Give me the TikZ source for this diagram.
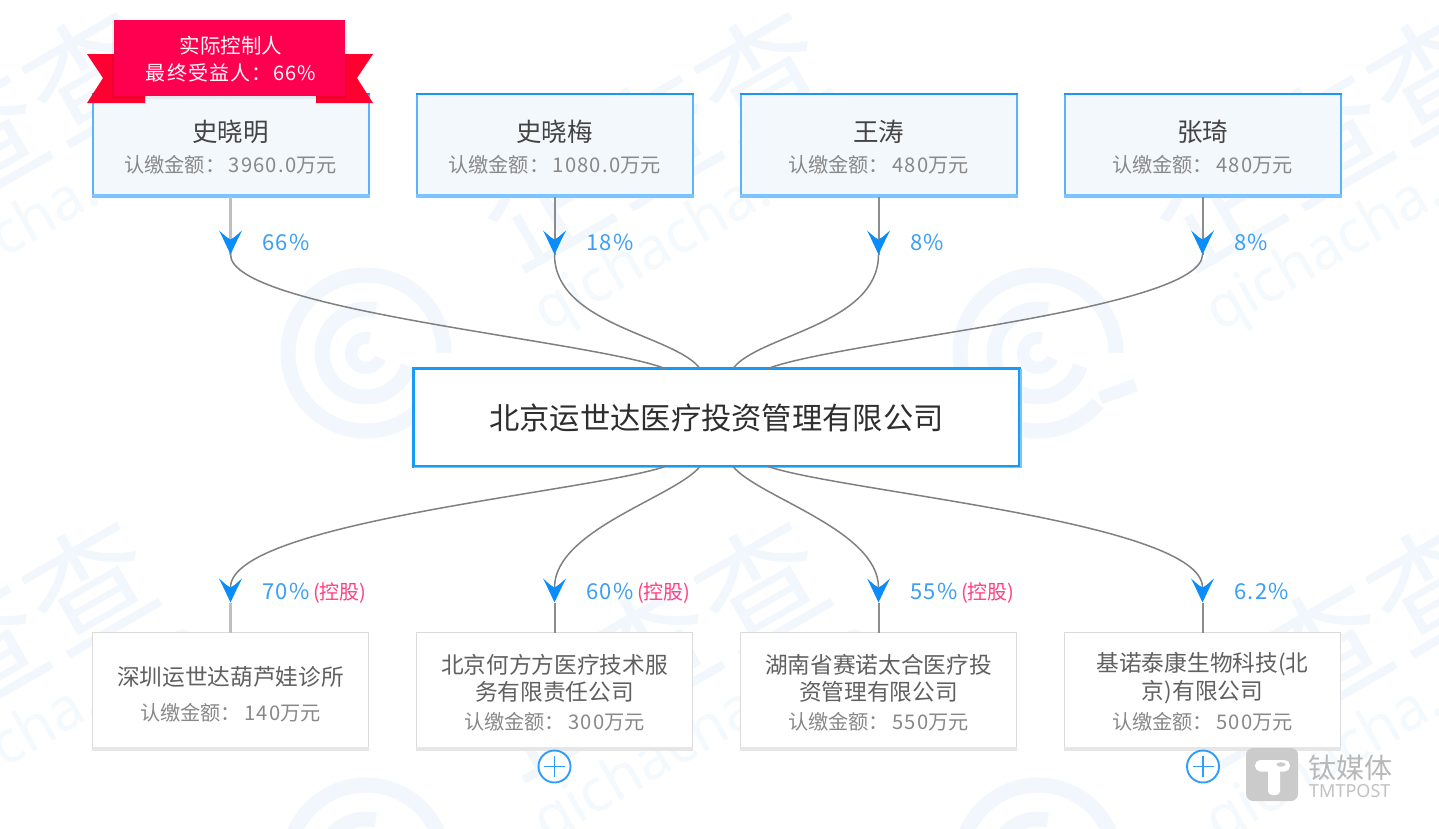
\documentclass[tikz,border=0pt]{standalone}
\usepackage{fontspec}
\setmainfont{Noto Sans CJK SC}
\newfontfamily\cn{Noto Sans CJK SC}
\newfontfamily\dg[LetterSpace=6]{Noto Sans CJK SC}
\newfontfamily\wm{Noto Sans}
\usetikzlibrary{calc}
\definecolor{wmc}{HTML}{F1F7FD}
\definecolor{wmt}{HTML}{F4F9FE}
\definecolor{topfill}{HTML}{F3F8FD}
\definecolor{topline}{HTML}{5AB4FC}
\definecolor{topedge}{HTML}{1E94F6}
\definecolor{topbot}{HTML}{7CC4FF}
\definecolor{hubline}{HTML}{1A9AF7}
\definecolor{subline}{HTML}{DADADA}
\definecolor{subbot}{HTML}{E6E6E6}
\definecolor{arrowc}{HTML}{0A8CFA}
\definecolor{pctc}{HTML}{3C9EF5}
\definecolor{pinkc}{HTML}{FF4080}
\definecolor{namec}{HTML}{444444}
\definecolor{subc}{HTML}{888888}
\definecolor{bannerc}{HTML}{FF0050}
\definecolor{tailc}{HTML}{FF0030}
\definecolor{logoc}{HTML}{CBCBCB}
\newcommand{\fs}[1]{\fontsize{#1}{#1}\selectfont}
\newcommand{\wmtile}[2]{%
  \node[wmbig] at (#1,#2) {企查查};
}
\newcommand{\wmlogo}[2]{%
  \coordinate (lc) at (#1,#2);
  \draw[wmring] ($(lc)+(0:78)$) arc[start angle=0,end angle=320,radius=78];
  \draw[wmring] ($(lc)+(77:44)$) arc[start angle=77,end angle=343,radius=44];
  \draw[wmring,line width=12pt] ($(lc)+(75:15)$) arc[start angle=75,end angle=340,radius=15];
  \draw[wmring,line width=13pt] ($(lc)+(62,-45)$) -- ($(lc)+(98,-32)$);
}
\newcommand{\arrowat}[1]{%
  \fill[arrowc] (#1) -- ($(#1)+(-8,17)$) -- ($(#1)+(-11.5,24)$) -- ($(#1)+(-4,17.5)$) -- ($(#1)+(0,15)$)
     -- ($(#1)+(4,17.5)$) -- ($(#1)+(11.5,24)$) -- ($(#1)+(8,17)$) -- cycle;
}
\tikzset{
  x=1pt,y=1pt,
  wmbig/.style={text=wmc,font=\cn\fs{125},rotate=30,inner sep=0pt},
  wmsmall/.style={text=wmt,font=\wm\fs{59},rotate=30,inner sep=0pt,anchor=base west},
  wmring/.style={draw=wmc,line width=15pt},
  holder/.style={draw=topline,line width=2pt,fill=topfill,minimum width=276pt,minimum height=103pt,inner sep=0pt,outer sep=0pt},
  hubbox/.style={draw=hubline,line width=2.4pt,fill=white,minimum width=606pt,minimum height=98pt,inner sep=0pt,outer sep=0pt},
  subbox/.style={draw=subline,line width=1.8pt,fill=white,minimum width=276pt,minimum height=117pt,inner sep=0pt,outer sep=0pt},
  title/.style={anchor=base,inner sep=0pt,text=namec,font=\cn\fs{25.5}},
  money/.style={anchor=base,inner sep=0pt,text=subc,font=\cn\fs{20.2}},
  subname/.style={anchor=center,inner sep=0pt,text=namec!85!white,font=\cn\fs{22.7},align=center},
  pct/.style={anchor=base west,inner sep=0pt,text=pctc,font=\dg\fs{22}},
  vline/.style={draw=black!45,line width=2pt},
  link/.style={draw=black!50,line width=1.5pt},
  plusc/.style={circle,draw=arrowc!85!white,line width=1.9pt,fill=white,minimum size=32pt,inner sep=0pt},
}
\begin{document}
\begin{tikzpicture}
\useasboundingbox (0,0) rectangle (1439,-828);
\fill[white] (0,0) rectangle (1439,-828);
% watermark
\begin{scope}
\clip (0,0) rectangle (1439,-828);
\wmlogo{366}{-353}\wmlogo{1038}{-353}\wmlogo{366}{-863}\wmlogo{1038}{-863}
\foreach \x in {-20,652,1324} \foreach \y in {-137,-647}{\wmtile{\x}{\y}}
\foreach \x in {-125,547,1219} \foreach \y in {-333,-843}{\node[wmsmall] at (\x,\y) {qichacha.com};}
\end{scope}
% boxes
\node[holder] (p1) at (230.5,-145) {};
\node[holder] (p2) at (554.5,-145) {};
\node[holder] (p3) at (878.5,-145) {};
\node[holder] (p4) at (1202.5,-145) {};
\node[hubbox] (hub) at (716.5,-417.5) {};
\node[subbox] (s1) at (230.5,-691) {};
\node[subbox] (s2) at (554.5,-691) {};
\node[subbox] (s3) at (878.5,-691) {};
\node[subbox] (s4) at (1202.5,-691) {};
\foreach \n in {p1,p2,p3,p4}{
  \draw[topbot,line width=4pt] ($(\n.south west)+(-1,1)$) -- ($(\n.south east)+(1,1)$);
  \draw[topedge,line width=2pt] ($(\n.north west)+(-1,0)$) -- ($(\n.north east)+(1,0)$);
}
\foreach \n in {s1,s2,s3,s4}{\draw[subbot,line width=4pt] ($(\n.south west)+(-0.9,1)$) -- ($(\n.south east)+(0.9,1)$);}
\draw[topbot,line width=1.2pt] ($(hub.south west)+(0,-1.2)$) -- ($(hub.south east)+(1.5,-1.2)$) -- ($(hub.north east)+(1.5,0)$);
% connector points
\foreach \i/\n in {1/p1,2/p2,3/p3,4/p4}{\coordinate (t\i) at ($(\n.south)+(0,-58)$);}
\foreach \i/\n in {1/s1,2/s2,3/s3,4/s4}{\coordinate (b\i) at ($(\n.north)+(0,30)$);}
\coordinate (h1) at ($(hub.north)+(-51.5,0)$);
\coordinate (h2) at ($(hub.north)+(-16.5,0)$);
\coordinate (h3) at ($(hub.north)+(16.5,0)$);
\coordinate (h4) at ($(hub.north)+(51.5,0)$);
\coordinate (k1) at ($(hub.south)+(-51.5,0)$);
\coordinate (k2) at ($(hub.south)+(-16.5,0)$);
\coordinate (k3) at ($(hub.south)+(16.5,0)$);
\coordinate (k4) at ($(hub.south)+(51.5,0)$);
% connectors, owners
\draw[vline,draw=black!25,line width=3.4pt] (p1.south) -- (t1);
\draw[vline] (p2.south) -- (t2);
\draw[vline] (p3.south) -- (t3);
\draw[vline] (p4.south) -- (t4);
\draw[link] (t1) .. controls (230.5,-310) and (590,-340) .. (h1);
\draw[link] (t2) .. controls (554.5,-325) and (675,-335) .. (h2);
\draw[link] (t3) .. controls (878.5,-325) and (758,-335) .. (h3);
\draw[link] (t4) .. controls (1202.5,-310) and (843,-340) .. (h4);
% connectors, holdings
\draw[link] (k1) .. controls (590,-492) and (230.5,-522) .. ($(b1)+(0,15)$);
\draw[link] (k2) .. controls (675,-497) and (554.5,-530) .. ($(b2)+(0,15)$);
\draw[link] (k3) .. controls (758,-497) and (878.5,-530) .. ($(b3)+(0,15)$);
\draw[link] (k4) .. controls (843,-492) and (1202.5,-522) .. ($(b4)+(0,15)$);
\draw[vline,draw=black!25,line width=3.4pt] (b1) -- (s1.north);
\draw[vline] (b2) -- (s2.north);
\draw[vline] (b3) -- (s3.north);
\draw[vline] (b4) -- (s4.north);
\foreach \c in {t1,t2,t3,t4,b1,b2,b3,b4}{\arrowat{\c}}
% ribbon
\fill[tailc] (87,-54) -- (114,-54) -- (114,-96) -- (145,-96) -- (145,-103) -- (87,-103) -- (103,-78) -- cycle;
\fill[tailc] (373,-54) -- (345,-54) -- (345,-96) -- (316,-96) -- (316,-103) -- (373,-103) -- (357,-78) -- cycle;
\fill[black,opacity=0.05] (112,-22) rectangle (347,-99);
\fill[bannerc] (114,-20) rectangle (345,-96);
\node[anchor=base,inner sep=0pt,text=white!92!pink,font=\cn\fs{20.5}] (rib1) at (231,-53.5) {实际控制人};
\node[anchor=base,inner sep=0pt,text=white!92!pink,font=\dg\fs{20}] (rib2) at (231,-80.5) {最终受益人：66\%};
% texts
\node[title] (n1) at (230.5,-141.4) {史晓明};
\node[money] (m1) at (230.5,-172) {认缴金额：\,{\dg 3960.0}万元};
\node[title] (n2) at (554.5,-141.4) {史晓梅};
\node[money] (m2) at (554.5,-172) {认缴金额：\,{\dg 1080.0}万元};
\node[title] (n3) at (878.5,-141.4) {王涛};
\node[money] (m3) at (878.5,-172) {认缴金额：\,{\dg 480}万元};
\node[title] (n4) at (1202.5,-141.4) {张琦};
\node[money] (m4) at (1202.5,-172) {认缴金额：\,{\dg 480}万元};
\node[anchor=base,inner sep=0pt,text=black!82,font=\cn\fs{30.3}] (hubt) at (716.5,-429) {北京运世达医疗投资管理有限公司};
\node[subname] (q1) at (230.5,-677) {深圳运世达葫芦娃诊所};
\node[money] (r1) at (230.5,-720) {认缴金额：\,{\dg 140}万元};
\node[subname] (q2) at (554.5,-678) {北京何方方医疗技术服\\[4pt]务有限责任公司};
\node[money] (r2) at (554.5,-729) {认缴金额：\,{\dg 300}万元};
\node[subname] (q3) at (878.5,-678) {湖南省赛诺太合医疗投\\[4pt]资管理有限公司};
\node[money] (r3) at (878.5,-729) {认缴金额：\,{\dg 550}万元};
\node[subname] (q4) at (1202.5,-678) {基诺泰康生物科技(北\\[4pt]京)有限公司};
\node[money] (r4) at (1202.5,-729) {认缴金额：\,{\dg 500}万元};
% percentages
\node[pct] (c1) at (262,-250) {66\%};
\node[pct] (c2) at (586,-250) {18\%};
\node[pct] (c3) at (910,-250) {8\%};
\node[pct] (c4) at (1234,-250) {8\%};
\node[pct] (d1) at (262,-599) {70\%\,{\cn\fs{20}\color{pinkc}(控股)}};
\node[pct] (d2) at (586,-599) {60\%\,{\cn\fs{20}\color{pinkc}(控股)}};
\node[pct] (d3) at (910,-599) {55\%\,{\cn\fs{20}\color{pinkc}(控股)}};
\node[pct] (d4) at (1234,-599) {6.2\%};
% expanders
\node[plusc] (e2) at (554.5,-766.5) {};
\node[plusc] (e4) at (1203,-766.5) {};
\foreach \e in {e2,e4}{
  \draw[arrowc!85!white,line width=1.5pt] ($(\e)+(-10.5,0)$) -- ($(\e)+(10.5,0)$);
  \draw[arrowc!85!white,line width=1.5pt] ($(\e)+(0,-10.5)$) -- ($(\e)+(0,10.5)$);
}
% TMTPOST mark
\fill[logoc,rounded corners=7pt] (1246,-748) rectangle (1298,-801);
\fill[white,rounded corners=5.4pt] (1255,-760) rectangle (1290,-771.5);
\fill[white,rounded corners=4pt] (1268,-762) rectangle (1280,-795);
\fill[logoc] (1281,-764.5) ellipse (4.5 and 2.2);
\node[anchor=base west,inner sep=0pt,text=black!28,font=\cn\fs{28}] (w1) at (1308,-778) {钛媒体};
\node[anchor=base west,inner sep=0pt,text=black!24,font=\wm\fs{18}] (w2) at (1309,-797) {TMTPOST};
\end{tikzpicture}
\end{document}
